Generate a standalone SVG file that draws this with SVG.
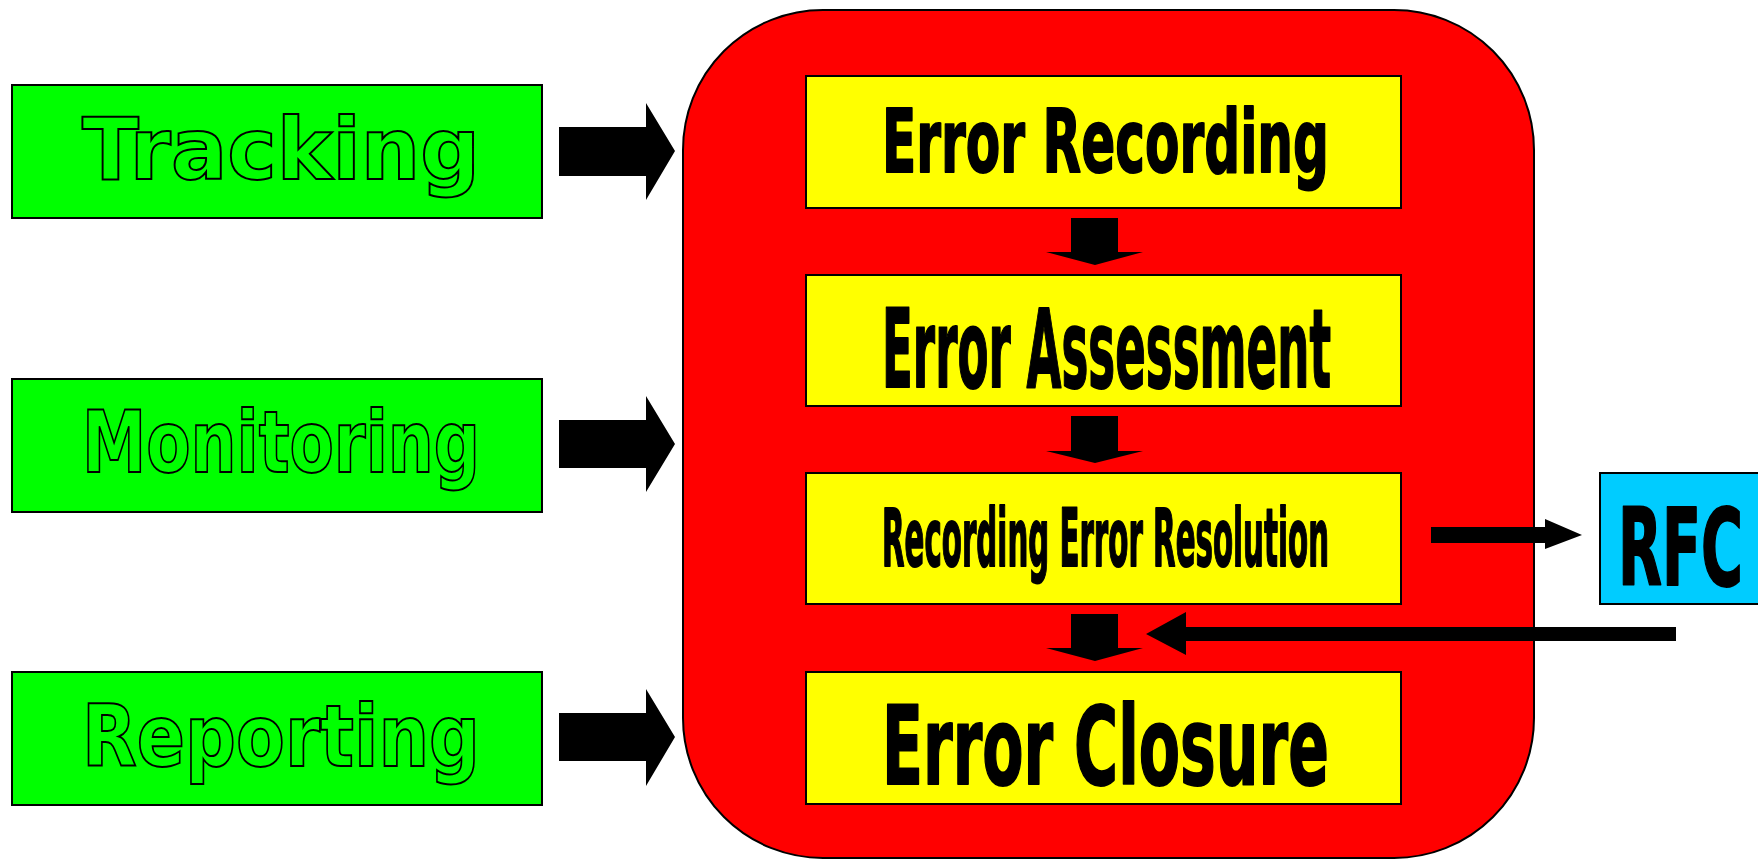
<svg xmlns="http://www.w3.org/2000/svg" width="1758" height="860" viewBox="0 0 1758 860">
<style>
.g{fill:#00ff00;stroke:#000;stroke-width:2}
.y{fill:#ffff00;stroke:#000;stroke-width:2}
.b{fill:#00ccff;stroke:#000;stroke-width:2}
.gt{font-family:"DejaVu Sans","Liberation Sans",Arial,sans-serif;font-weight:bold;font-size:86px;fill:#00ff00;stroke:#000;stroke-width:2;text-anchor:start}
.yt{font-family:"DejaVu Sans","Liberation Sans",Arial,sans-serif;font-weight:bold;fill:#000;stroke:#000;stroke-width:2;stroke-linejoin:round;text-anchor:start}
.ar{fill:#000}
</style>
<rect width="1758" height="860" fill="#fff"/>
<g id="container">
<rect x="683" y="10" width="851" height="848" rx="140" ry="140" fill="#ff0000" stroke="#000" stroke-width="2"/>
</g>
<g id="tracking">
<rect class="g" x="12" y="85" width="530" height="133"/>
<text class="gt" x="82" y="179" textLength="398" lengthAdjust="spacingAndGlyphs">Tracking</text>
</g>
<g id="monitoring">
<rect class="g" x="12" y="379" width="530" height="133"/>
<text class="gt" x="82" y="472" textLength="398" lengthAdjust="spacingAndGlyphs">Monitoring</text>
</g>
<g id="reporting">
<rect class="g" x="12" y="672" width="530" height="133"/>
<text class="gt" x="82" y="766" textLength="398" lengthAdjust="spacingAndGlyphs">Reporting</text>
</g>
<g id="error-recording">
<rect class="y" x="806" y="76" width="595" height="132"/>
<text class="yt" x="882" y="172" font-size="88" textLength="447" lengthAdjust="spacingAndGlyphs">Error Recording</text>
</g>
<g id="error-assessment">
<rect class="y" x="806" y="275" width="595" height="131"/>
<text class="yt" x="882" y="387" font-size="109" textLength="449" lengthAdjust="spacingAndGlyphs">Error Assessment</text>
</g>
<g id="recording-error-resolution">
<rect class="y" x="806" y="473" width="595" height="131"/>
<text class="yt" x="882" y="566" font-size="80" textLength="447" lengthAdjust="spacingAndGlyphs">Recording Error Resolution</text>
</g>
<g id="error-closure">
<rect class="y" x="806" y="672" width="595" height="132"/>
<text class="yt" x="882" y="784" font-size="109" textLength="447" lengthAdjust="spacingAndGlyphs">Error Closure</text>
</g>
<g id="rfc">
<rect class="b" x="1600" y="473" width="170" height="131"/>
<text class="yt" x="1618" y="585" font-size="107" textLength="125" lengthAdjust="spacingAndGlyphs">RFC</text>
</g>
<g id="connectors">
<polygon class="ar" points="559,127 646,127 646,103 675,151 646,200 646,176 559,176"/>
<polygon class="ar" points="559,420 646,420 646,396 675,444 646,492 646,468 559,468"/>
<polygon class="ar" points="559,713 646,713 646,689 675,737 646,786 646,761 559,761"/>
<polygon class="ar" points="1071,218 1118,218 1118,252 1143,252 1095,265 1046,252 1071,252"/>
<polygon class="ar" points="1071,416 1118,416 1118,451 1143,451 1095,463 1046,451 1071,451"/>
<polygon class="ar" points="1071,614 1118,614 1118,648 1143,648 1095,661 1046,648 1071,648"/>
<polygon class="ar" points="1431,527 1545,527 1545,519 1582,535 1545,549 1545,543 1431,543"/>
<polygon class="ar" points="1676,627 1186,627 1186,612 1146,634 1186,655 1186,641 1676,641"/>
</g>
</svg>
